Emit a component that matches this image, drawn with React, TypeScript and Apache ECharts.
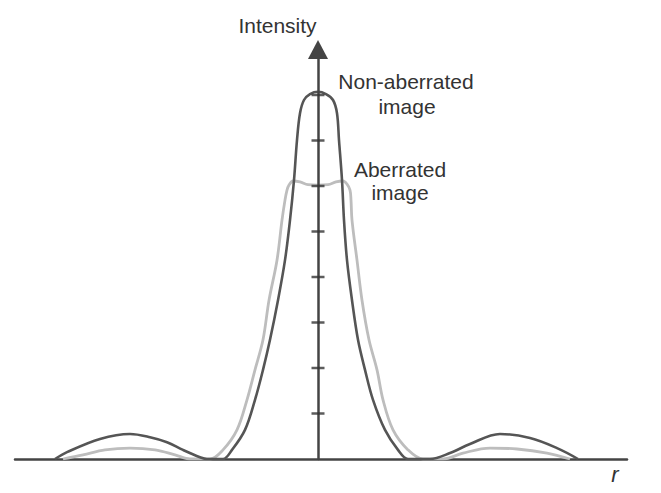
import React, { useEffect, useRef } from "react";
import * as echarts from "echarts";

// r positions (arbitrary units) and intensities for the non-aberrated image
const nonAberratedR = [
  -26.3, -25.1, -21.8, -18.8, -16.8, -15.1, -13.5, -11.8, -11.1,
  -9.5, -8.6, -7.3, -6.3, -5.5, -4.8, -4.0, -3.3, -2.8, -2.4, -2.1, -1.8, -1.4, -0.8, 0,
  0.8, 1.5, 1.9, 2.1, 2.4, 2.6, 2.9, 3.4, 4.0, 4.7, 5.5, 6.7, 8.0, 9.0,
  11.2, 13.2, 15.2, 18.2, 21.2, 23.9, 26.0,
];
const nonAberratedI = [
  0, 0.15, 0.44, 0.55, 0.48, 0.37, 0.2, 0.04, 0,
  0, 0.2, 0.64, 1.3, 1.96, 2.62, 3.49, 4.37, 5.25, 6.13, 7.01, 7.6, 7.89, 8.02, 8.07,
  8.02, 7.89, 7.6, 7.01, 6.13, 5.25, 4.37, 3.49, 2.62, 1.96, 1.3, 0.64, 0.2, 0,
  0, 0.13, 0.33, 0.55, 0.46, 0.24, 0,
];

// r positions and intensities for the aberrated image
const aberratedR = [
  -25.5, -23.5, -21.3, -18.8, -16.3, -14.3, -12.8,
  -10.8, -9.5, -8.1, -7.1, -6.3, -5.5, -4.9, -4.1, -3.6, -3.3, -3.1, -2.9, -2.5, -1.8, -1.0, 0,
  1.0, 1.8, 2.5, 2.9, 3.2, 3.3, 3.4, 3.9, 4.4, 5.1, 5.9, 6.5, 7.5, 9.0, 10.5,
  12.5, 14.5, 17.2, 19.9, 22.9, 25.2,
];
const aberratedI = [
  0, 0.09, 0.2, 0.24, 0.2, 0.09, 0,
  0, 0.2, 0.64, 1.3, 1.96, 2.62, 3.49, 4.37, 5.25, 5.69, 5.91, 6.02, 6.11, 6.09, 6.03, 6.02,
  6.03, 6.09, 6.11, 6.04, 5.91, 5.69, 5.25, 4.37, 3.49, 2.62, 1.96, 1.3, 0.64, 0.2, 0,
  0, 0.13, 0.24, 0.22, 0.13, 0,
];

// intensity tick marks on the vertical axis
const yTicks = [1, 2, 3, 4, 5, 6, 7, 8];

const FONT = '"Liberation Sans", Arial, Helvetica, sans-serif';

export default function App() {
  const ref = useRef<HTMLDivElement>(null);

  useEffect(() => {
    if (!ref.current) return;
    const chart = echarts.init(ref.current, undefined, { renderer: "svg" });
    const zip = (xs: number[], ys: number[]) => xs.map((x, i) => [x, ys[i]]);
    const textStyle = (text: string, italic = false) => ({
      text,
      font: `${italic ? "italic 22px" : "21px"} ${FONT}`,
      fill: "#333",
      align: "center",
      verticalAlign: "middle",
    });

    chart.setOption({
      animation: false,
      backgroundColor: "#ffffff",
      grid: { left: 15, right: 34, top: 49.5, bottom: 34, containLabel: false },
      xAxis: {
        type: "value",
        min: -30.3,
        max: 30.9,
        axisLine: { show: true, onZero: true, lineStyle: { color: "#444", width: 2.5 } },
        axisTick: { show: false },
        axisLabel: { show: false },
        splitLine: { show: false },
      },
      yAxis: {
        type: "value",
        min: 0,
        max: 9,
        z: 3,
        axisLine: {
          show: true,
          onZero: true,
          symbol: ["none", "triangle"],
          symbolSize: [20, 19],
          lineStyle: { color: "#444", width: 2.5 },
        },
        axisTick: { show: false },
        axisLabel: { show: false },
        splitLine: { show: false },
      },
      series: [
        {
          name: "Aberrated image",
          type: "line",
          data: zip(aberratedR, aberratedI),
          smooth: 0.35,
          symbol: "none",
          lineStyle: { color: "#bdbdbd", width: 2.8 },
          z: 1,
        },
        {
          name: "Non-aberrated image",
          type: "line",
          data: zip(nonAberratedR, nonAberratedI),
          smooth: 0.35,
          symbol: "none",
          lineStyle: { color: "#555555", width: 2.6 },
          z: 2,
        },
        {
          name: "ticks",
          type: "scatter",
          silent: true,
          data: yTicks.map((v) => [0, v]),
          symbol: "rect",
          symbolSize: [13, 2.5],
          itemStyle: { color: "#333" },
          z: 4,
        },
      ],
      graphic: [
        { type: "text", x: 277.5, y: 25.5, style: textStyle("Intensity") },
        { type: "text", x: 406, y: 81.6, style: textStyle("Non-aberrated") },
        { type: "text", x: 407, y: 106.6, style: textStyle("image") },
        { type: "text", x: 400, y: 169.6, style: textStyle("Aberrated") },
        { type: "text", x: 400, y: 192.6, style: textStyle("image") },
        { type: "text", x: 615, y: 474.6, style: textStyle("r", true) },
      ],
    });

    return () => chart.dispose();
  }, []);

  return (
    <div
      ref={ref}
      style={{ position: "fixed", left: 0, top: 0, width: 661, height: 493 }}
    />
  );
}
